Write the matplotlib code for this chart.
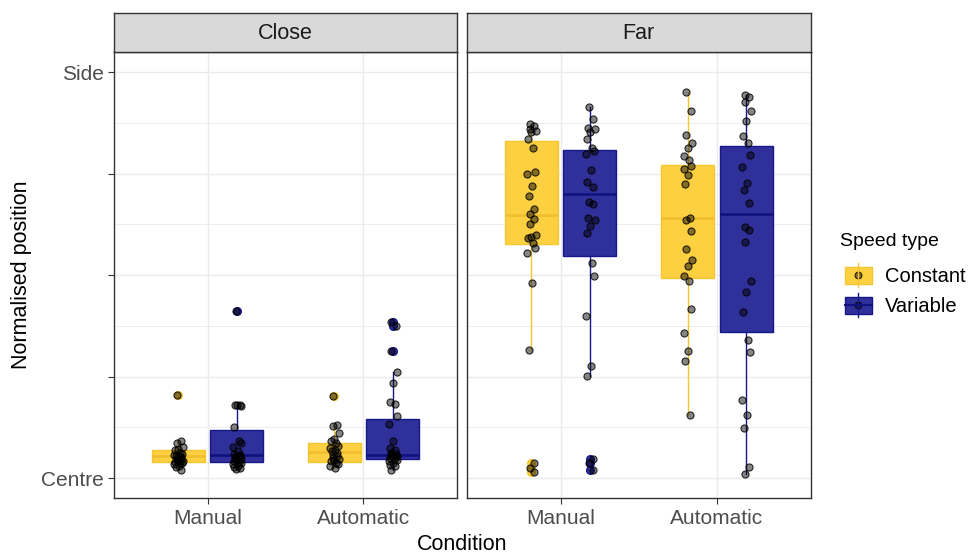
import matplotlib.pyplot as plt
from matplotlib.patches import Rectangle

plt.rcParams['font.family'] = ['Liberation Sans', 'DejaVu Sans']

facets = ['Close', 'Far']
conditions = ['Manual', 'Automatic']
speeds = ['Constant', 'Variable']

# observations (normalised position, 0 = centre, 1 = side)
close_manual_constant = [0.2055, 0.092, 0.085, 0.076, 0.072, 0.068, 0.062, 0.060, 0.057, 0.055,
                         0.053, 0.051, 0.049, 0.047, 0.045, 0.043, 0.041, 0.040, 0.038, 0.037,
                         0.034, 0.030, 0.026, 0.020]
close_manual_variable = [0.411, 0.179, 0.181, 0.177, 0.180, 0.125, 0.090, 0.086, 0.076, 0.066,
                         0.060, 0.057, 0.055, 0.053, 0.050, 0.048, 0.045, 0.042, 0.040, 0.037,
                         0.034, 0.030, 0.027, 0.025, 0.022]
close_auto_constant = [0.201, 0.131, 0.127, 0.111, 0.096, 0.090, 0.086, 0.080, 0.074, 0.070,
                       0.066, 0.062, 0.057, 0.053, 0.049, 0.047, 0.045, 0.041, 0.037, 0.034,
                       0.030, 0.025]
close_auto_variable = [0.385, 0.374, 0.314, 0.262, 0.233, 0.187, 0.183, 0.152, 0.133, 0.090,
                       0.074, 0.068, 0.062, 0.059, 0.057, 0.055, 0.053, 0.050, 0.047, 0.045,
                       0.041, 0.037, 0.033, 0.029, 0.020]
far_manual_constant = [0.872, 0.866, 0.859, 0.855, 0.851, 0.836, 0.814, 0.753, 0.750, 0.719,
                       0.695, 0.662, 0.650, 0.639, 0.625, 0.598, 0.594, 0.592, 0.580, 0.567,
                       0.555, 0.481, 0.315, 0.037, 0.025, 0.014]
far_manual_variable = [0.913, 0.884, 0.862, 0.859, 0.853, 0.835, 0.814, 0.805, 0.798, 0.759,
                       0.728, 0.716, 0.680, 0.676, 0.640, 0.635, 0.621, 0.604, 0.529, 0.497,
                       0.399, 0.275, 0.251, 0.047, 0.037, 0.020]
far_auto_constant = [0.951, 0.905, 0.845, 0.825, 0.814, 0.792, 0.784, 0.769, 0.761, 0.746,
                     0.725, 0.641, 0.636, 0.609, 0.565, 0.537, 0.522, 0.497, 0.485, 0.417,
                     0.356, 0.314, 0.289, 0.156]
far_auto_variable = [0.943, 0.938, 0.927, 0.905, 0.880, 0.843, 0.825, 0.795, 0.767, 0.726,
                     0.710, 0.677, 0.619, 0.611, 0.582, 0.485, 0.458, 0.409, 0.341, 0.310,
                     0.193, 0.156, 0.123, 0.027, 0.011]

# box summaries: q1, median, q3, lower whisker, upper whisker
close_manual_constant_box = [0.0385, 0.053, 0.068, 0.020, 0.092]
close_manual_variable_box = [0.0385, 0.056, 0.117, 0.022, 0.181]
close_auto_constant_box = [0.0385, 0.063, 0.086, 0.025, 0.131]
close_auto_variable_box = [0.047, 0.057, 0.146, 0.020, 0.262]
far_manual_constant_box = [0.577, 0.647, 0.829, 0.315, 0.872]
far_manual_variable_box = [0.547, 0.699, 0.808, 0.251, 0.913]
far_auto_constant_box = [0.492, 0.641, 0.771, 0.156, 0.951]
far_auto_variable_box = [0.359, 0.651, 0.817, 0.011, 0.943]

points = {
    ('Close', 'Manual', 'Constant'): close_manual_constant,
    ('Close', 'Manual', 'Variable'): close_manual_variable,
    ('Close', 'Automatic', 'Constant'): close_auto_constant,
    ('Close', 'Automatic', 'Variable'): close_auto_variable,
    ('Far', 'Manual', 'Constant'): far_manual_constant,
    ('Far', 'Manual', 'Variable'): far_manual_variable,
    ('Far', 'Automatic', 'Constant'): far_auto_constant,
    ('Far', 'Automatic', 'Variable'): far_auto_variable,
}
boxes = {
    ('Close', 'Manual', 'Constant'): close_manual_constant_box,
    ('Close', 'Manual', 'Variable'): close_manual_variable_box,
    ('Close', 'Automatic', 'Constant'): close_auto_constant_box,
    ('Close', 'Automatic', 'Variable'): close_auto_variable_box,
    ('Far', 'Manual', 'Constant'): far_manual_constant_box,
    ('Far', 'Manual', 'Variable'): far_manual_variable_box,
    ('Far', 'Automatic', 'Constant'): far_auto_constant_box,
    ('Far', 'Automatic', 'Variable'): far_auto_variable_box,
}

fill = {'Constant': '#FDD042', 'Variable': '#30309A'}
edge = {'Constant': '#F5C62E', 'Variable': '#17178A'}
med_col = {'Constant': '#F0BC30', 'Variable': '#10107E'}
jitter = [-0.008, 0.02, -0.01, 0.03, 0.0, -0.02, 0.012, 0.025, -0.025, 0.005, -0.015, 0.018]

W, H = 975, 555
fig = plt.figure(figsize=(W / 100, H / 100), dpi=100)

panel_px = {'Close': (114, 457), 'Far': (466.7, 810.7)}
top_px, bot_px, strip_top = 51.7, 498.3, 13.3

for f in facets:
    x0, x1 = panel_px[f]
    ax = fig.add_axes([x0 / W, 1 - bot_px / H, (x1 - x0) / W, (bot_px - top_px) / H])
    ax.set_xlim(0.4, 2.6)
    ax.set_ylim(-0.05, 1.05)
    ax.set_xticks([1, 2])
    ax.set_xticklabels(conditions)
    ax.set_yticks([0, 0.25, 0.5, 0.75, 1])
    ax.set_yticks([0.125, 0.375, 0.625, 0.875], minor=True)
    ax.set_yticklabels(['Centre', '', '', '', 'Side'])
    ax.grid(True, which='major', color='#EBEBEB', lw=1.0)
    ax.grid(True, which='minor', axis='y', color='#EBEBEB', lw=0.6)
    ax.set_axisbelow(True)
    ax.tick_params(which='major', length=4.5, width=0.8, color='#333333',
                   labelsize=15, labelcolor='#4D4D4D', pad=3)
    ax.tick_params(which='minor', length=0)
    if f == 'Far':
        ax.tick_params(axis='y', left=False, labelleft=False)
    for s in ax.spines.values():
        s.set_color('#333333')
        s.set_linewidth(1.0)

    for ci, c in enumerate(conditions):
        for si, sp in enumerate(speeds):
            pos = ci + 1 + (si - 0.5) * 0.375
            q1, med, q3, lo, hi = boxes[(f, c, sp)]
            vals = points[(f, c, sp)]
            fl = [v for v in vals if v < lo - 1e-9 or v > hi + 1e-9]
            st = [dict(q1=q1, med=med, q3=q3, whislo=lo, whishi=hi, fliers=fl)]
            ax.bxp(st, positions=[pos], widths=0.34, patch_artist=True, showcaps=False,
                   boxprops=dict(facecolor=fill[sp], edgecolor=edge[sp], lw=1.0),
                   whiskerprops=dict(color=edge[sp], lw=1.0),
                   medianprops=dict(color=med_col[sp], lw=1.8),
                   flierprops=dict(marker='o', markersize=5.5, markerfacecolor=fill[sp],
                                   markeredgecolor=edge[sp]),
                   manage_ticks=False)
            xs = [pos + jitter[i % len(jitter)] for i in range(len(vals))]
            ax.scatter(xs, vals, s=26, facecolor=(0, 0, 0, 0.48),
                       edgecolor=(0, 0, 0, 0.8), lw=0.8, zorder=5)

    sax = fig.add_axes([x0 / W, 1 - top_px / H, (x1 - x0) / W, (top_px - strip_top) / H])
    sax.set_facecolor('#D9D9D9')
    sax.set_xticks([])
    sax.set_yticks([])
    for s in sax.spines.values():
        s.set_color('#333333')
        s.set_linewidth(1.0)
    sax.text(0.5, 0.47, f, ha='center', va='center', fontsize=15.5, color='#1A1A1A',
             transform=sax.transAxes)

# axis titles and legend in pixel coordinates
ov = fig.add_axes([0, 0, 1, 1])
ov.set_xlim(0, W)
ov.set_ylim(H, 0)
ov.axis('off')
ov.text(462, 545, 'Condition', ha='center', va='center', fontsize=15.5, color='black')
ov.text(22, 275, 'Normalised position', ha='center', va='center', rotation=90,
        fontsize=15.5, color='black')
ov.text(840, 241, 'Speed type', ha='left', va='center', fontsize=14, color='black')
for sp, cy in zip(speeds, [275, 305]):
    ov.plot([858.3, 858.3], [cy - 12, cy + 12], color=edge[sp], lw=1.0)
    ov.add_patch(Rectangle((845, cy - 8.5), 26.7, 17, facecolor=fill[sp], edgecolor=edge[sp], lw=1.0))
    if sp == 'Variable':
        ov.plot([845, 871.7], [cy, cy], color=med_col[sp], lw=1.5)
    ov.scatter([858.3], [cy], s=24, facecolor=(0, 0, 0, 0.48), edgecolor=(0, 0, 0, 0.8), lw=0.8)
    ov.text(885, cy + 1, sp, ha='left', va='center', fontsize=14.5, color='black')

fig.savefig('out.png', dpi=100)
